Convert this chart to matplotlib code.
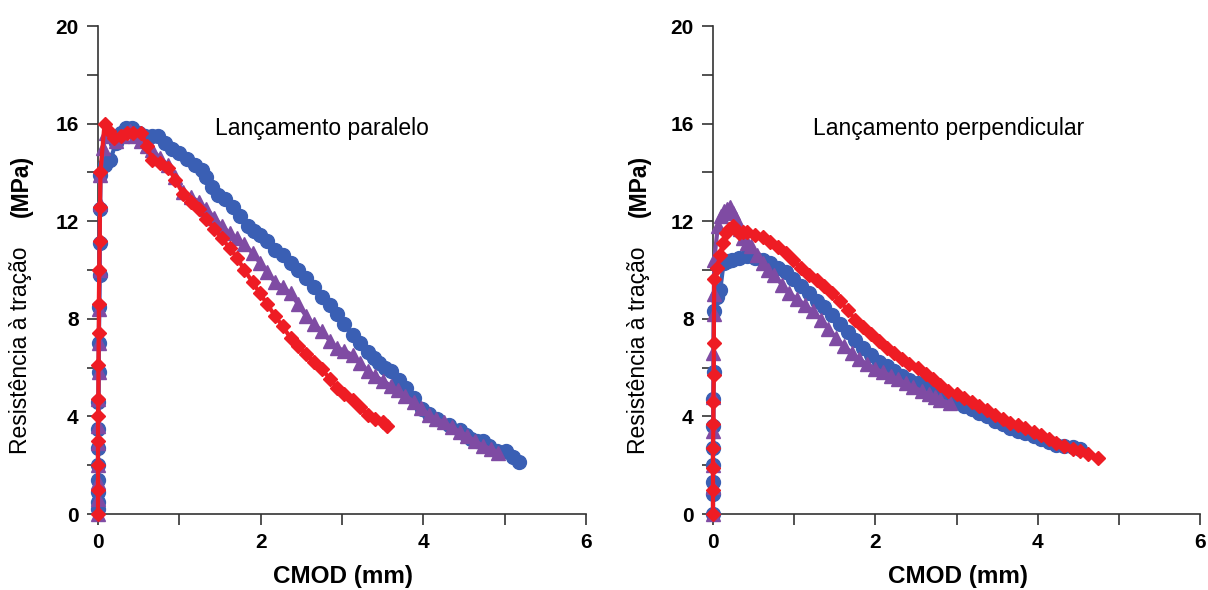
import matplotlib.pyplot as plt
from matplotlib.ticker import MultipleLocator

plt.rcParams['font.family'] = ['Liberation Sans', 'DejaVu Sans']

# ---- Lançamento paralelo ----
par_blue_x = [0.0, 0.0, 0.0, 0.0, 0.0, 0.0, 0.005, 0.005, 0.01, 0.01, 0.015, 0.02, 0.02, 0.025, 0.03,
              0.08, 0.15, 0.22, 0.28, 0.34, 0.42, 0.50, 0.58, 0.66, 0.74, 0.82, 0.91, 1.00, 1.10,
              1.19, 1.28, 1.33, 1.40, 1.47, 1.56, 1.66, 1.75, 1.85, 1.92, 1.99, 2.08, 2.18, 2.27,
              2.37, 2.46, 2.56, 2.65, 2.75, 2.85, 2.94, 3.03, 3.13, 3.22, 3.32, 3.39, 3.46, 3.53,
              3.60, 3.70, 3.79, 3.88, 3.98, 4.07, 4.17, 4.31, 4.45, 4.52, 4.59, 4.66, 4.73, 4.81,
              4.90, 5.02, 5.10, 5.18]
par_blue_y = [0.2, 0.5, 0.9, 1.4, 2.0, 2.7, 3.5, 4.6, 5.8, 7.0, 8.5, 9.8, 11.1, 12.5, 13.9,
              14.3, 14.5, 15.2, 15.6, 15.8, 15.8, 15.6, 15.5, 15.5, 15.5, 15.2, 14.95, 14.8, 14.56,
              14.3, 14.1, 13.8, 13.4, 13.08, 12.9, 12.6, 12.2, 11.8, 11.6, 11.45, 11.2, 10.8, 10.6,
              10.3, 10.0, 9.67, 9.3, 8.9, 8.55, 8.19, 7.8, 7.33, 7.0, 6.64, 6.4, 6.17, 6.0,
              5.86, 5.5, 5.16, 4.75, 4.3, 4.1, 3.9, 3.65, 3.45, 3.25, 3.06, 3.0, 2.98, 2.8,
              2.6, 2.6, 2.35, 2.13]

par_purple_x = [0.0, 0.0, 0.0, 0.0, 0.0, 0.005, 0.005, 0.01, 0.01, 0.015, 0.02, 0.025, 0.03,
                0.06, 0.10, 0.16, 0.22, 0.30, 0.39, 0.46, 0.53, 0.60, 0.67, 0.76, 0.86, 0.95,
                1.05, 1.14, 1.24, 1.33, 1.43, 1.52, 1.62, 1.71, 1.80, 1.90, 1.99, 2.08, 2.18,
                2.27, 2.37, 2.46, 2.56, 2.65, 2.75, 2.85, 2.94, 3.03, 3.13, 3.22, 3.32, 3.41,
                3.50, 3.60, 3.69, 3.78, 3.88, 3.97, 4.07, 4.16, 4.26, 4.35, 4.45, 4.54, 4.64,
                4.73, 4.83, 4.92]
par_purple_y = [0.0, 0.6, 1.3, 2.0, 2.9, 3.6, 4.7, 5.8, 7.0, 8.4, 10.0, 12.7, 13.9,
                15.0, 15.6, 15.5, 15.3, 15.5, 15.7, 15.5, 15.3, 15.1, 14.9, 14.6, 14.3, 13.8,
                13.2, 13.0, 12.8, 12.5, 12.15, 11.8, 11.5, 11.3, 11.05, 10.7, 10.3, 9.9, 9.5,
                9.3, 9.05, 8.6, 8.1, 7.8, 7.5, 7.1, 6.8, 6.7, 6.5, 6.2, 5.86, 5.65,
                5.47, 5.25, 5.08, 4.85, 4.6, 4.35, 4.07, 3.9, 3.76, 3.55, 3.37, 3.2, 2.98,
                2.8, 2.67, 2.52]

par_red_x = [0.0, 0.0, 0.0, 0.0, 0.0, 0.005, 0.005, 0.01, 0.01, 0.015, 0.02, 0.025, 0.03, 0.08,
             0.14, 0.20, 0.28, 0.36, 0.43, 0.53, 0.60, 0.67, 0.76, 0.86, 0.95, 1.05, 1.14,
             1.24, 1.33, 1.43, 1.52, 1.62, 1.71, 1.80, 1.90, 1.99, 2.08, 2.18, 2.27, 2.37,
             2.46, 2.56, 2.65, 2.75, 2.85, 2.94, 3.03, 3.13, 3.22, 3.32, 3.41, 3.50, 3.55]
par_red_y = [0.0, 1.0, 2.0, 3.0, 4.0, 4.7, 6.1, 7.4, 8.6, 10.0, 11.2, 12.6, 14.0, 16.0,
             15.7, 15.4, 15.5, 15.6, 15.6, 15.6, 15.1, 14.5, 14.4, 14.2, 13.7, 13.1, 12.8,
             12.5, 12.1, 11.7, 11.3, 10.9, 10.5, 10.0, 9.5, 9.05, 8.6, 8.1, 7.7, 7.2,
             6.9, 6.56, 6.25, 5.94, 5.55, 5.16, 4.9, 4.69, 4.4, 4.07, 3.9, 3.76, 3.6]

# ---- Lançamento perpendicular ----
per_blue_x = [0.0, 0.0, 0.0, 0.0, 0.0, 0.005, 0.005, 0.01, 0.01, 0.05, 0.09, 0.13, 0.18, 0.23,
              0.32, 0.42, 0.52, 0.61, 0.70, 0.80, 0.90, 0.99, 1.08, 1.18, 1.28, 1.37, 1.47,
              1.56, 1.66, 1.75, 1.85, 1.95, 2.04, 2.14, 2.23, 2.33, 2.42, 2.52, 2.62, 2.71,
              2.80, 2.90, 3.00, 3.09, 3.19, 3.28, 3.38, 3.47, 3.57, 3.66, 3.76, 3.85, 3.95,
              4.04, 4.14, 4.23, 4.33, 4.43, 4.52]
per_blue_y = [0.0, 0.8, 1.3, 2.0, 2.7, 3.6, 4.7, 5.8, 8.3, 8.9, 9.2, 10.27, 10.35, 10.4,
              10.5, 10.57, 10.5, 10.4, 10.3, 10.1, 9.9, 9.65, 9.35, 9.04, 8.75, 8.5, 8.15,
              7.8, 7.45, 7.13, 6.8, 6.5, 6.25, 6.05, 5.85, 5.67, 5.5, 5.36, 5.2, 5.06,
              4.9, 4.75, 4.6, 4.44, 4.3, 4.14, 4.0, 3.83, 3.68, 3.52, 3.4, 3.3, 3.18,
              3.07, 2.95, 2.84, 2.8, 2.76, 2.68]

per_purple_x = [0.0, 0.0, 0.0, 0.0, 0.005, 0.005, 0.01, 0.01, 0.015, 0.06, 0.10, 0.13, 0.17,
                0.21, 0.25, 0.28, 0.33, 0.37, 0.42, 0.47, 0.54, 0.61, 0.68, 0.75, 0.85, 0.94,
                1.04, 1.13, 1.23, 1.33, 1.42, 1.52, 1.61, 1.71, 1.80, 1.90, 2.00, 2.09, 2.19,
                2.28, 2.38, 2.47, 2.57, 2.66, 2.73, 2.80, 2.92]
per_purple_y = [0.0, 1.1, 2.0, 3.4, 4.8, 6.6, 8.2, 9.0, 10.4, 11.8, 12.2, 12.4, 12.5,
                12.57, 12.35, 12.1, 11.7, 11.3, 11.1, 11.0, 10.6, 10.27, 10.0, 9.8, 9.4, 9.04,
                8.8, 8.58, 8.3, 7.97, 7.6, 7.2, 6.9, 6.6, 6.35, 6.13, 5.95, 5.82, 5.67,
                5.52, 5.35, 5.2, 5.05, 4.9, 4.8, 4.67, 4.55]

per_red_x = [0.0, 0.0, 0.0, 0.0, 0.005, 0.005, 0.01, 0.01, 0.015, 0.05, 0.09, 0.12, 0.16,
             0.20, 0.25, 0.32, 0.37, 0.42, 0.52, 0.61, 0.70, 0.80, 0.90, 0.99, 1.08, 1.18,
             1.28, 1.37, 1.47, 1.56, 1.66, 1.75, 1.85, 1.95, 2.04, 2.14, 2.23, 2.33, 2.42,
             2.52, 2.62, 2.71, 2.80, 2.90, 3.00, 3.09, 3.19, 3.28, 3.38, 3.47, 3.57, 3.66,
             3.76, 3.85, 3.95, 4.04, 4.14, 4.23, 4.33, 4.43, 4.52, 4.62, 4.74]
per_red_y = [0.0, 1.0, 1.9, 2.7, 3.7, 4.6, 5.7, 7.0, 9.65, 10.1, 10.6, 11.1, 11.5,
             11.7, 11.8, 11.5, 11.55, 11.57, 11.45, 11.34, 11.15, 10.96, 10.7, 10.4, 10.1, 9.8,
             9.6, 9.35, 9.05, 8.74, 8.35, 7.97, 7.65, 7.36, 7.1, 6.82, 6.6, 6.36, 6.15,
             5.98, 5.75, 5.52, 5.3, 5.06, 4.9, 4.75, 4.6, 4.44, 4.25, 4.06, 3.9, 3.75,
             3.63, 3.52, 3.37, 3.22, 3.06, 2.91, 2.8, 2.68, 2.57, 2.45, 2.3]

BLUE = '#3a5fb4'
PURPLE = '#7f4ba3'
RED = '#ee1c24'

fig = plt.figure(figsize=(12.08, 5.90), dpi=100)
ax1 = fig.add_axes([98/1208, 76/590, 488/1208, 488/590])
ax2 = fig.add_axes([713/1208, 76/590, 487/1208, 488/590])

panels = [
    (ax1, par_blue_x, par_blue_y, par_purple_x, par_purple_y, par_red_x, par_red_y,
     'Lançamento paralelo', 1.44),
    (ax2, per_blue_x, per_blue_y, per_purple_x, per_purple_y, per_red_x, per_red_y,
     'Lançamento perpendicular', 1.23),
]

for ax, bx, by, px, py, rx, ry, title, tx in panels:
    ax.plot(bx, by, color=BLUE, lw=3, marker='o', ms=10, mec=BLUE, clip_on=False, zorder=3)
    ax.plot(px, py, color=PURPLE, lw=3, marker='^', ms=10, mec=PURPLE, clip_on=False, zorder=4)
    ax.plot(rx, ry, color=RED, lw=3, marker='D', ms=7.5, mec=RED, clip_on=False, zorder=5)
    ax.set_xlim(0, 6)
    ax.set_ylim(0, 20)
    ax.xaxis.set_major_locator(MultipleLocator(2))
    ax.xaxis.set_minor_locator(MultipleLocator(1))
    ax.yaxis.set_major_locator(MultipleLocator(4))
    ax.yaxis.set_minor_locator(MultipleLocator(2))
    for s in ['top', 'right']:
        ax.spines[s].set_visible(False)
    for s in ['left', 'bottom']:
        ax.spines[s].set_color('#333333')
        ax.spines[s].set_linewidth(1.2)
    ax.tick_params(which='major', direction='out', length=8, width=1.2, color='#333333',
                   labelsize=15, pad=6)
    ax.tick_params(which='minor', direction='out', length=8, width=1.2, color='#333333')
    for lab in ax.get_xticklabels() + ax.get_yticklabels():
        lab.set_fontweight('bold')
    ax.text(tx, 15.8, title, fontsize=16.5, va='center', ha='left')

for xc in [21/1208, 639/1208]:
    fig.text(xc, 1 - 350/590, 'Resistência à tração', rotation=90, fontsize=16.5,
             ha='center', va='center')
    fig.text(xc, 1 - 186/590, '(MPa)', rotation=90, fontsize=16.5, fontweight='bold',
             ha='center', va='center')

for xc in [343/1208, 958/1208]:
    fig.text(xc, 1 - 577/590, 'CMOD (mm)', fontsize=17.5, fontweight='bold',
             ha='center', va='center')

fig.savefig('out.png', dpi=100)
